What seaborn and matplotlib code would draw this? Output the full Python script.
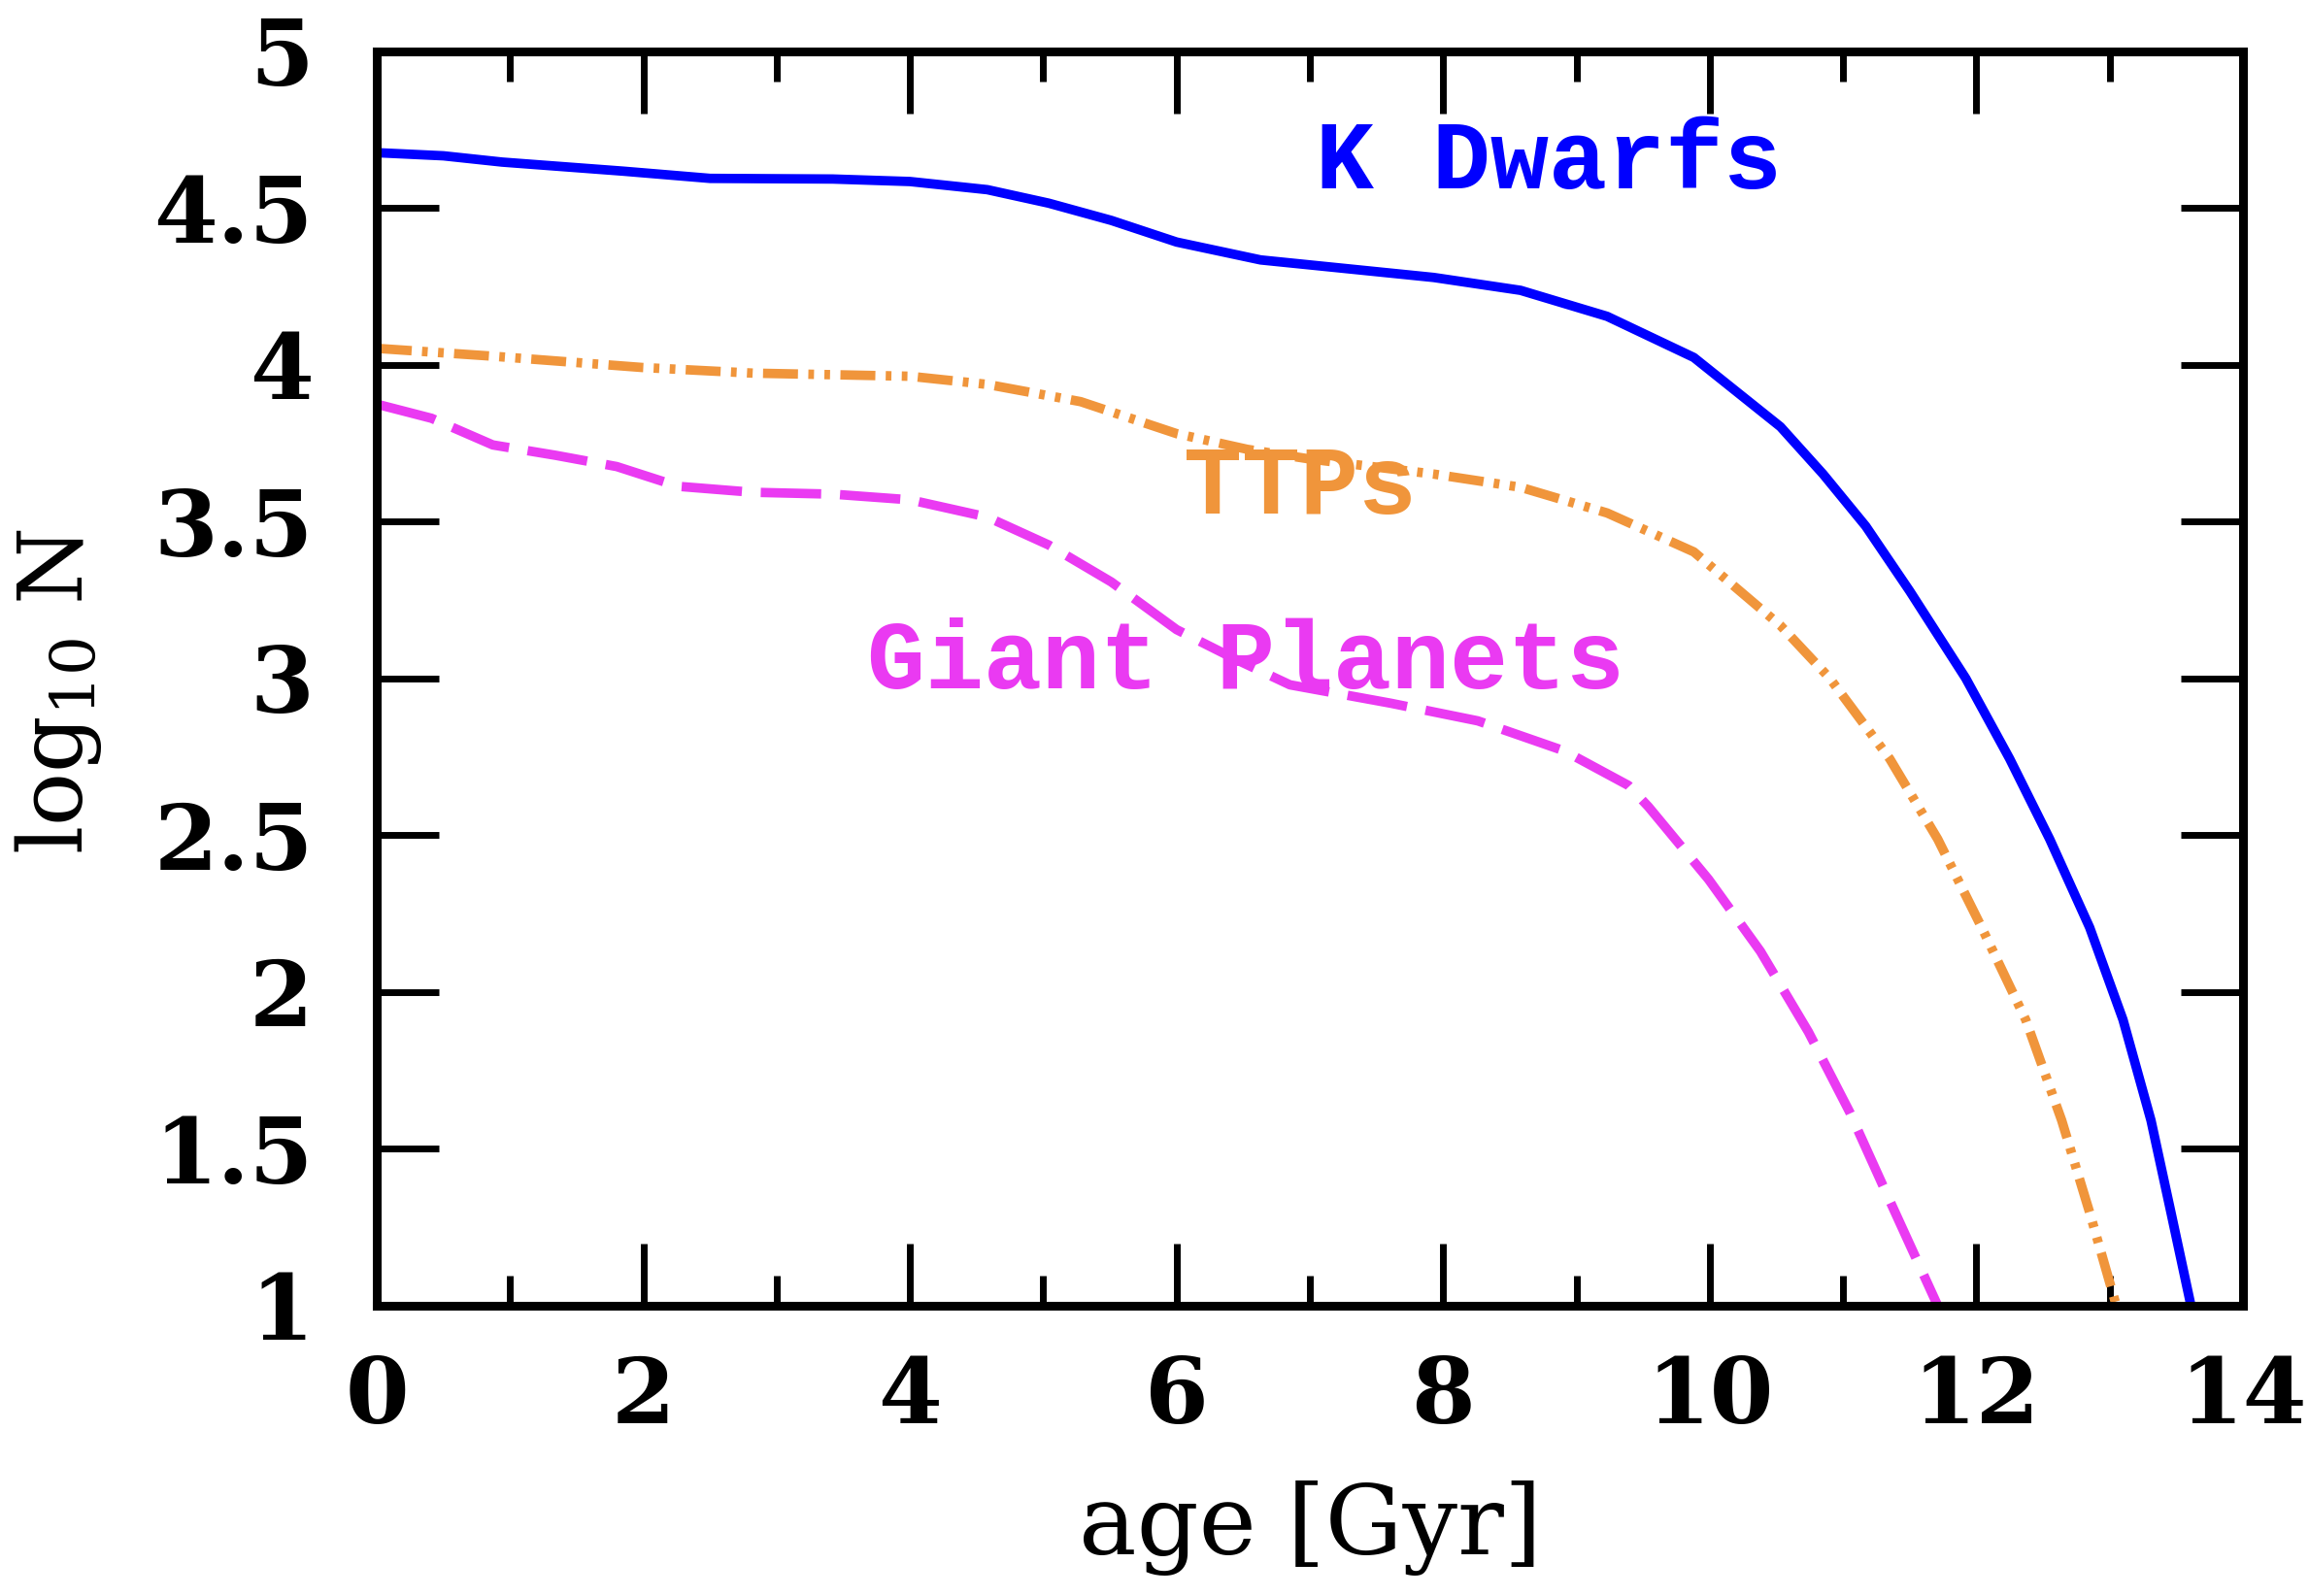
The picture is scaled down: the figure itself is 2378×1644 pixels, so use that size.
import matplotlib
matplotlib.use("Agg")
import matplotlib.pyplot as plt
from matplotlib.ticker import MultipleLocator
import seaborn as sb

# valori (eta' in Gyr, log10 N)
kdw_age = [0, 0.5, 0.94, 1.85, 2.5, 3.42, 4.0, 4.58, 5.04, 5.51, 6.0, 6.63, 7.28,
           7.93, 8.58, 9.23, 9.88, 10.53, 10.85, 11.17, 11.50, 11.92, 12.25, 12.55,
           12.85, 13.10, 13.31, 13.46, 13.61]
kdw_logn = [4.677, 4.667, 4.647, 4.618, 4.595, 4.593, 4.585, 4.559, 4.516, 4.461,
            4.392, 4.335, 4.307, 4.279, 4.238, 4.155, 4.024, 3.803, 3.652, 3.486,
            3.279, 3.001, 2.744, 2.488, 2.206, 1.912, 1.591, 1.297, 1.0]

ttp_age = [0, 0.87, 1.99, 2.82, 4.0, 4.58, 5.28, 6.0, 6.53, 7.0, 7.93, 8.58, 9.23,
           9.88, 10.53, 10.90, 11.35, 11.71, 12.04, 12.37, 12.64, 12.85, 13.05]
ttp_logn = [4.053, 4.028, 3.992, 3.974, 3.964, 3.938, 3.883, 3.781, 3.731, 3.70,
            3.652, 3.610, 3.528, 3.404, 3.169, 3.001, 2.744, 2.488, 2.206, 1.912,
            1.591, 1.297, 1.0]

gp_age = [0, 0.41, 0.87, 1.34, 1.80, 2.26, 2.82, 3.42, 4.0, 4.58, 5.04, 5.51, 6.0,
          6.44, 6.85, 7.61, 8.26, 8.91, 9.39, 9.54, 9.99, 10.38, 10.74, 11.05,
          11.35, 11.71]
gp_logn = [3.875, 3.830, 3.745, 3.712, 3.676, 3.613, 3.594, 3.588, 3.570, 3.515,
           3.426, 3.308, 3.156, 3.062, 2.98, 2.921, 2.865, 2.769, 2.659, 2.591,
           2.360, 2.130, 1.873, 1.617, 1.335, 1.0]

labels = ["K Dwarfs", "TTPs", "Giant Planets"]
label_pos = [(8.79, 4.643), (6.93, 3.606), (6.52, 3.047)]
colori = ["#0000FF", "#F0953B", "#EA3AF2"]

sb.set_theme(style="white")
plt.rcParams["font.family"] = ["DejaVu Serif"]
plt.rcParams["mathtext.fontset"] = "dejavuserif"
plt.rcParams["text.color"] = "black"

fig = plt.figure(figsize=(23.78, 16.44), dpi=100)
ax = fig.add_axes([0.1632, 0.1819, 0.8082, 0.7859])

lw = 7
sb.lineplot(x=kdw_age, y=kdw_logn, ax=ax, color=colori[0], lw=lw, sort=False)
sb.lineplot(x=ttp_age, y=ttp_logn, ax=ax, color=colori[1], lw=lw, sort=False)
sb.lineplot(x=gp_age, y=gp_logn, ax=ax, color=colori[2], lw=lw, sort=False)
ax.lines[1].set_dashes([3.7, 1.1, 0.6, 1.1, 0.6, 1.1])
ax.lines[2].set_dashes([6.4, 2.0])

# etichette delle curve
for testo, (xx, yy), c in zip(labels, label_pos, colori):
    ax.text(xx, yy, testo, color=c, fontsize=72, fontweight="bold",
            family="Liberation Mono", ha="center", va="center")

ax.set_xlim(0, 14)
ax.set_ylim(1, 5)
ax.xaxis.set_major_locator(MultipleLocator(2))
ax.xaxis.set_minor_locator(MultipleLocator(1))
ax.set_yticks([1, 1.5, 2, 2.5, 3, 3.5, 4, 4.5, 5])
ax.set_yticklabels(["1", "1.5", "2", "2.5", "3", "3.5", "4", "4.5", "5"])

ax.tick_params(which="both", direction="in", bottom=True, left=True, top=True,
               right=True, width=5, color="black", labelcolor="black")
ax.tick_params(which="major", length=46)
ax.tick_params(which="minor", length=22)
ax.tick_params(axis="x", pad=36, labelsize=68)
ax.tick_params(axis="y", pad=47, labelsize=68)
for lab in ax.get_xticklabels() + ax.get_yticklabels():
    lab.set_fontweight("bold")

for sp in ax.spines.values():
    sp.set_linewidth(6.5)
    sp.set_color("black")

ax.set_xlabel("age [Gyr]", fontsize=72, color="black", labelpad=29)
ax.set_ylabel("log$_{10}$ N", fontsize=66, color="black")
ax.yaxis.set_label_coords(-0.146, 0.49)

fig.savefig("out.png", dpi=100)
